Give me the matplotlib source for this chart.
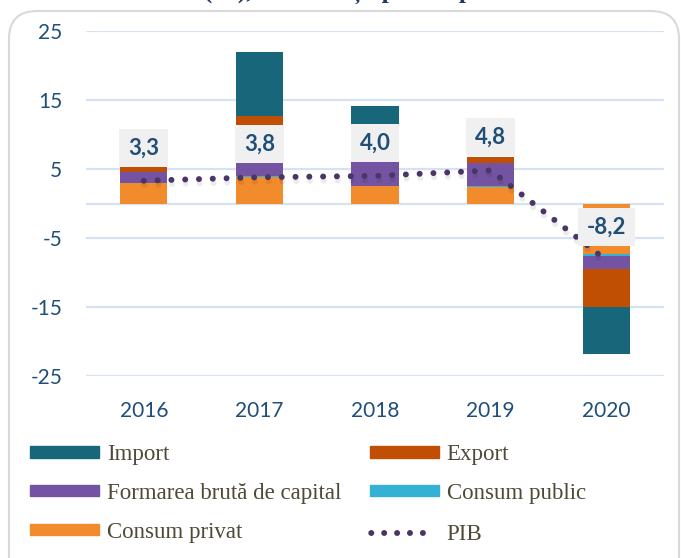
import numpy as np
import matplotlib.pyplot as plt
import matplotlib.patheffects as pe
from matplotlib.patches import Patch, FancyBboxPatch, Rectangle
from matplotlib.lines import Line2D

# ------------------------------
# Data (contributions, p.p.)
# ------------------------------
years = ["2016", "2017", "2018", "2019", "2020"]
consum_privat = [2.9, 3.8, 2.5, 2.4, -7.3]
consum_public = [0.0, 0.15, 0.1, 0.1, -0.25]
formare_capital = [1.6, 3.3, 3.6, 3.4, -2.0]
export = [0.9, 5.4, 2.5, 0.9, -5.5]
import_ = [0.0, 9.3, 5.5, 0.0, -6.8]
pib = [3.3, 3.8, 4.0, 4.8, -8.2]
pib_labels = ["3,3", "3,8", "4,0", "4,8", "-8,2"]

series = [
    ("Consum privat", consum_privat, "#f28b2b"),
    ("Consum public", consum_public, "#35b1d3"),
    ("Formarea brută de capital", formare_capital, "#7454a2"),
    ("Export", export, "#c04f04"),
    ("Import", import_, "#17667a"),
]

tick_color = "#1f4e79"
grid_color = "#d5e2f1"
pib_color = "#4b3566"

# ------------------------------
# Figure
# ------------------------------
fig = plt.figure(figsize=(6.81, 5.58), dpi=100)
renderer = fig.canvas.get_renderer()

# rounded frame around the chart
frame = FancyBboxPatch((0.09, -0.4), 6.70, 5.87,
                       boxstyle="round,pad=0,rounding_size=0.28",
                       transform=fig.dpi_scale_trans,
                       facecolor="none", edgecolor="#d9d9d9", lw=1.5, zorder=-1)
fig.patches.append(frame)

# cut-off title at the very top; place it so "(" starts near x=204 px
title_kw = dict(family="Liberation Serif", fontweight="bold", fontsize=18.4,
                color="#1f3864", ha="left", va="baseline")
t1 = fig.text(0, 0, "Dinamica PIB x", **title_kw)
t2 = fig.text(0, 0, "x", **title_kw)
prefix_w = (t1.get_window_extent(renderer).width
            - t2.get_window_extent(renderer).width)
t1.remove()
t2.remove()
fig.text((204 - prefix_w) / 681, 1 + 2.5 / 558,
         "Dinamica PIB (%), contribuții pe componente", **title_kw)

ax = fig.add_axes([86 / 681, 182 / 558, 578 / 681, 345 / 558])
ax.set_facecolor("none")
ax.set_xlim(-0.5, 4.5)
ax.set_ylim(-25, 25)

x = np.arange(len(years))
width = 0.41

pos_bottom = np.zeros(len(years))
neg_bottom = np.zeros(len(years))
for name, vals, col in series:
    vals = np.array(vals)
    bottoms = np.where(vals >= 0, pos_bottom, neg_bottom)
    ax.bar(x, vals, width, bottom=bottoms, color=col, zorder=3)
    pos_bottom += np.where(vals >= 0, vals, 0)
    neg_bottom += np.where(vals < 0, vals, 0)

# PIB dotted line
line, = ax.plot(x, pib, color=pib_color, lw=4.3, linestyle=(0, (0.01, 2.3)),
                dash_capstyle="round", zorder=4)
line.set_path_effects([pe.SimpleLineShadow(offset=(0.5, -3), shadow_color="k", alpha=0.08),
                       pe.Normal()])

# value labels in grey boxes above the PIB points
px_per_x = 578 / 5.0
px_per_y = 345 / 50.0
off = 33 / px_per_y
box_h = 38 / px_per_y
for xi, yi, lab in zip(x, pib, pib_labels):
    t = ax.text(xi, yi + off, lab, ha="center", va="center", family="Lato",
                fontweight="bold", fontsize=16, color=tick_color, zorder=7)
    w_px = t.get_window_extent(renderer).width
    box_w = max(width, (w_px + 18) / px_per_x)
    ax.add_patch(Rectangle((xi - box_w / 2, yi + off - box_h / 2), box_w, box_h,
                           facecolor="#f0f0f0", edgecolor="none", zorder=6))

# axes styling
yt = [25, 15, 5, -5, -15, -25]
ax.set_yticks(yt)
ax.set_yticklabels([str(v) for v in yt])
ax.set_xticks(x)
ax.set_xticklabels(years)
for v in yt + [0]:
    ax.axhline(v, color=grid_color, lw=1.6, zorder=1)
for s in ax.spines.values():
    s.set_visible(False)
ax.tick_params(axis="both", length=0, labelcolor=tick_color, labelsize=15)
ax.tick_params(axis="y", pad=17)
ax.tick_params(axis="x", pad=18)
for lab in ax.get_xticklabels() + ax.get_yticklabels():
    lab.set_family("Lato")

# ------------------------------
# Legend (two columns, PIB entry on its own for a shorter handle)
# ------------------------------
colors = {name: col for name, _, col in series}
h_left = [Patch(color=colors["Import"]),
          Patch(color=colors["Formarea brută de capital"]),
          Patch(color=colors["Consum privat"])]
l_left = ["Import", "Formarea brută de capital", "Consum privat"]
h_right = [Patch(color=colors["Export"]),
           Patch(color=colors["Consum public"])]
l_right = ["Export", "Consum public"]
h_pib = [Line2D([0], [0], color=pib_color, lw=4.3, linestyle=(1.95, (0.01, 2.15)),
                dash_capstyle="round")]

leg_kw = dict(loc="upper left", frameon=False, borderpad=0, borderaxespad=0,
              handlelength=3.0, handleheight=0.4, handletextpad=0.35,
              labelspacing=0.78, labelcolor="#4f4a37",
              prop={"family": "Liberation Serif", "size": 16.5})
fig.legend(h_left, l_left, bbox_to_anchor=(30 / 681, 1 - 444 / 558), **leg_kw)
fig.legend(h_right, l_right, bbox_to_anchor=(370 / 681, 1 - 444 / 558), **leg_kw)
pib_kw = dict(leg_kw, handlelength=2.45, handletextpad=0.9)
fig.legend(h_pib, ["PIB"], bbox_to_anchor=(370 / 681, 1 - 524 / 558), **pib_kw)

fig.savefig("out.png", dpi=100)
